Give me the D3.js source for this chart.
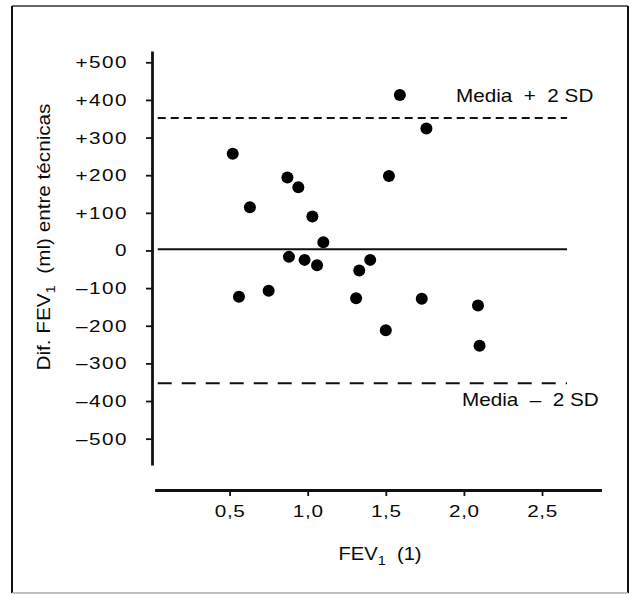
<!DOCTYPE html>
<html>
<head>
<meta charset="utf-8">
<script src="https://cdn.jsdelivr.net/npm/d3@7"></script>
<style>
  body { margin: 0; background: #fff; }
  svg text { font-family: "Liberation Sans", Arial, sans-serif; fill: #0a0a0a; }
</style>
</head>
<body>
<div id="container"></div>
<script>
let w = 633;
let h = 594;
let stretch = 1.22; // the printed type is wider than Arial

// data
let fevValues = [0.52, 0.63, 0.87, 0.94, 1.03, 1.10, 1.52, 1.59, 1.76, 0.56, 0.75,
                 0.88, 0.98, 1.06, 1.33, 1.40, 1.31, 1.50, 1.73, 2.09, 2.10];
let difValues = [257, 115, 194, 168, 90, 22, 198, 413, 324, -123, -107,
                 -17, -25, -39, -53, -25, -127, -212, -128, -146, -253];
let xTicks = [0.5, 1.0, 1.5, 2.0, 2.5];
let yTicks = [500, 400, 300, 200, 100, 0, -100, -200, -300, -400, -500];
let refNames = ["Media + 2 SD", "media", "Media \u2013 2 SD"];
let refValues = [352, 3, -353];

let viz = d3.select("#container").append("svg")
    .attr("width", w)
    .attr("height", h)
    .style("background-color", "white");

// frame
viz.append("line").attr("x1", 12).attr("y1", 6).attr("x2", 628).attr("y2", 6)
  .attr("stroke", "#333").attr("stroke-width", 1.5);
viz.append("line").attr("x1", 12).attr("y1", 6).attr("x2", 12).attr("y2", 593)
  .attr("stroke", "#111").attr("stroke-width", 2);
viz.append("line").attr("x1", 628).attr("y1", 6).attr("x2", 628).attr("y2", 593)
  .attr("stroke", "#111").attr("stroke-width", 2);
viz.append("line").attr("x1", 12).attr("y1", 593).attr("x2", 628).attr("y2", 593)
  .attr("stroke", "#aaa").attr("stroke-width", 1.5);

let xScale = d3.scaleLinear().domain([0.02, 2.88]).range([154.6, 601.4]);
let yScale = d3.scaleLinear().domain([-570, 530]).range([465, 51]);

// y axis
let yAxis = d3.axisLeft(yScale)
  .tickValues(yTicks)
  .tickSize(6)
  .tickSizeOuter(0)
  .tickPadding(18)
  .tickFormat(function(d){
    if (d > 0) return "+" + d;
    if (d < 0) return "\u2013" + Math.abs(d);
    return "0";
  });

let yGroup = viz.append("g").attr("transform", "translate(152,0)").call(yAxis);
yGroup.select(".domain").attr("stroke", "#111").attr("stroke-width", 2.8);
yGroup.selectAll(".tick line").attr("stroke", "#111").attr("stroke-width", 1.8);
yGroup.selectAll(".tick text")
  .attr("x", 0)
  .attr("transform", "translate(-24,0) scale(" + stretch + ",1)")
  .style("font-size", "17px")
  .style("letter-spacing", "1.2px")
  .attr("fill", "#0a0a0a");

// x axis
let xAxis = d3.axisBottom(xScale)
  .tickValues(xTicks)
  .tickSize(6)
  .tickSizeOuter(0)
  .tickPadding(9)
  .tickFormat(function(d){ return d3.format(".1f")(d).replace(".", ","); });

let xGroup = viz.append("g").attr("transform", "translate(0,490)").call(xAxis);
xGroup.select(".domain").attr("stroke", "#111").attr("stroke-width", 2.8);
xGroup.selectAll(".tick line").attr("stroke", "#111").attr("stroke-width", 1.8);
xGroup.selectAll(".tick text")
  .attr("transform", "scale(" + stretch + ",1)")
  .style("font-size", "17px")
  .style("letter-spacing", "0.5px")
  .attr("fill", "#0a0a0a");

// reference lines
let lineEnd = 2.66;
viz.selectAll(".refline").data(refValues)
  .enter()
  .append("line")
  .attr("class", "refline")
  .attr("x1", xScale(0.04))
  .attr("x2", xScale(lineEnd))
  .attr("y1", function(d){ return yScale(d); })
  .attr("y2", function(d){ return yScale(d); })
  .attr("stroke", "#111")
  .attr("stroke-width", 2)
  .attr("stroke-dasharray", function(d, i){
    if (i == 0) return "8,5";
    if (i == 2) return "14,10";
    return null;
  });

// labels for the limits
viz.append("text")
  .attr("transform", "translate(456," + (yScale(refValues[0]) - 16) + ") scale(1.15,1)")
  .style("font-size", "18px")
  .style("white-space", "pre")
  .text(refNames[0].replace(" + ", "  +  "));

viz.append("text")
  .attr("transform", "translate(462," + (yScale(refValues[2]) + 23) + ") scale(1.15,1)")
  .style("font-size", "18px")
  .style("white-space", "pre")
  .text(refNames[2].replace(" \u2013 ", "  \u2013  "));

// points
viz.selectAll(".dot").data(fevValues)
  .enter()
  .append("circle")
  .attr("class", "dot")
  .attr("cx", function(d){ return xScale(d); })
  .attr("cy", function(d, i){ return yScale(difValues[i]); })
  .attr("r", 6)
  .attr("fill", "#000");

// axis titles
let xTitle = viz.append("text")
  .attr("transform", "translate(380,560) scale(1.12,1)")
  .attr("text-anchor", "middle")
  .style("font-size", "18px");
xTitle.append("tspan").text("FEV");
xTitle.append("tspan").attr("dy", 5).style("font-size", "13px").text("1");
xTitle.append("tspan").attr("dy", -5).style("white-space", "pre").text("  (1)");

let yTitle = viz.append("text")
  .attr("transform", "translate(50,237) rotate(-90) scale(1.15,1)")
  .attr("text-anchor", "middle")
  .style("font-size", "18px");
yTitle.append("tspan").text("Dif. FEV");
yTitle.append("tspan").attr("dy", 5).style("font-size", "13px").text("1");
yTitle.append("tspan").attr("dy", -5).style("white-space", "pre").text("  (ml) entre técnicas");
</script>
</body>
</html>
